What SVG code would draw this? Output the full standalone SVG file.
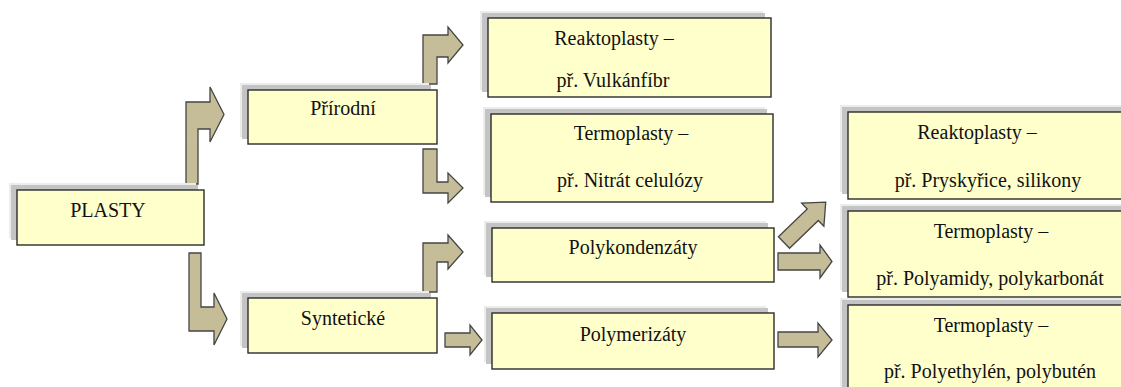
<svg xmlns="http://www.w3.org/2000/svg" width="1121" height="387" viewBox="0 0 1121 387">
<style>
.box{fill:#FFFFCC;stroke:#2b2b2b;stroke-width:1.4}
.s1{fill:#ececec}
.s2{fill:#c4c4c4}
.t{font-size:20px;fill:#111;text-anchor:middle}
.arr{fill:#C4BD97;stroke:#454545;stroke-width:1.3;stroke-linejoin:miter}
</style>
<rect width="1121" height="387" fill="#ffffff"/>
<g id="connectors">
<polygon class="arr" points="186,184 186,102 210,102 210,87 224,114.5 210,142 210,129 198,129 198,184"/>
<polygon class="arr" points="423,84 423,35 448,35 448,27 463,45 448,63 448,57 437,57 437,84"/>
<polygon class="arr" points="423,149 437,149 437,182 448,182 448,173 463,188 448,203 448,193 423,193"/>
<polygon class="arr" points="189,253 201,253 201,307 214,307 214,293 227,319 214,345 214,331 189,331"/>
<polygon class="arr" points="423,292 423,243 448,243 448,235 463,252 448,269 448,262 437,262 437,292"/>
<polygon class="arr" points="445,333 470,333 470,325 482,340 470,355 470,347 445,347"/>
<polygon class="arr" points="778,253 820,253 820,245 832,261.5 820,278 820,270 778,270"/>
<polygon class="arr" points="778,332 818,332 818,323 832,340 818,357 818,347 778,347"/>
<polygon class="arr" transform="translate(784,242.5) rotate(-44)" points="0,-8 40,-8 40,-16 58,0 40,16 40,8 0,8"/>
</g>
<g id="plasty">
<rect class="s1" x="9" y="183" width="187" height="55"/>
<rect class="s2" x="11" y="185" width="187" height="55"/>
<rect class="box" x="17" y="190" width="187" height="55"/>
<text class="t" style="font-family:'Liberation Serif'" x="108" y="217">PLASTY</text>
</g>
<g id="prirodni">
<rect class="s1" x="240" y="83" width="189" height="54"/>
<rect class="s2" x="242" y="85" width="189" height="54"/>
<rect class="box" x="248" y="90" width="189" height="54"/>
<text class="t" style="font-family:'Liberation Serif'" x="343" y="115">Přírodní</text>
</g>
<g id="synteticke">
<rect class="s1" x="240" y="291" width="189" height="55"/>
<rect class="s2" x="242" y="293" width="189" height="55"/>
<rect class="box" x="248" y="298" width="189" height="55"/>
<text class="t" style="font-family:'Liberation Serif'" x="343" y="325">Syntetické</text>
</g>
<g id="reakto1">
<rect class="s1" x="480" y="11" width="283" height="79"/>
<rect class="s2" x="482" y="13" width="283" height="79"/>
<rect class="box" x="488" y="18" width="283" height="79"/>
<text class="t" style="font-family:'Liberation Serif'" x="614" y="45">Reaktoplasty –</text>
<text class="t" style="font-family:'Liberation Serif'" x="613" y="87">př. Vulkánfíbr</text>
</g>
<g id="termo1">
<rect class="s1" x="483" y="107" width="282" height="88"/>
<rect class="s2" x="485" y="109" width="282" height="88"/>
<rect class="box" x="491" y="114" width="282" height="88"/>
<text class="t" style="font-family:'Liberation Serif'" x="631" y="140">Termoplasty –</text>
<text class="t" style="font-family:'Liberation Serif'" x="630" y="187">př. Nitrát celulózy</text>
</g>
<g id="polykondenzaty">
<rect class="s1" x="484" y="221" width="282" height="54"/>
<rect class="s2" x="486" y="223" width="282" height="54"/>
<rect class="box" x="492" y="228" width="282" height="54"/>
<text class="t" style="font-family:'Liberation Serif'" x="633" y="254">Polykondenzáty</text>
</g>
<g id="polymerizaty">
<rect class="s1" x="484" y="306" width="282" height="56"/>
<rect class="s2" x="486" y="308" width="282" height="56"/>
<rect class="box" x="492" y="313" width="282" height="56"/>
<text class="t" style="font-family:'Liberation Serif'" x="633" y="341">Polymerizáty</text>
</g>
<g id="reakto2">
<rect class="s1" x="840" y="105" width="283" height="87"/>
<rect class="s2" x="842" y="107" width="283" height="87"/>
<rect class="box" x="848" y="112" width="283" height="87"/>
<text class="t" style="font-family:'Liberation Serif'" x="977" y="139">Reaktoplasty –</text>
<text class="t" style="font-family:'Liberation Serif'" x="988" y="187">př. Pryskyřice, silikony</text>
</g>
<g id="termo2">
<rect class="s1" x="840" y="204" width="283" height="86"/>
<rect class="s2" x="842" y="206" width="283" height="86"/>
<rect class="box" x="848" y="211" width="283" height="86"/>
<text class="t" style="font-family:'Liberation Serif'" x="991" y="238">Termoplasty –</text>
<text class="t" style="font-family:'Liberation Serif'" x="990" y="285">př. Polyamidy, polykarbonát</text>
</g>
<g id="termo3">
<rect class="s1" x="840" y="298" width="283" height="95"/>
<rect class="s2" x="842" y="300" width="283" height="95"/>
<rect class="box" x="848" y="305" width="283" height="95"/>
<text class="t" style="font-family:'Liberation Serif'" x="991" y="332">Termoplasty –</text>
<text class="t" style="font-family:'Liberation Serif'" x="990" y="378">př. Polyethylén, polybutén</text>
</g>
</svg>
